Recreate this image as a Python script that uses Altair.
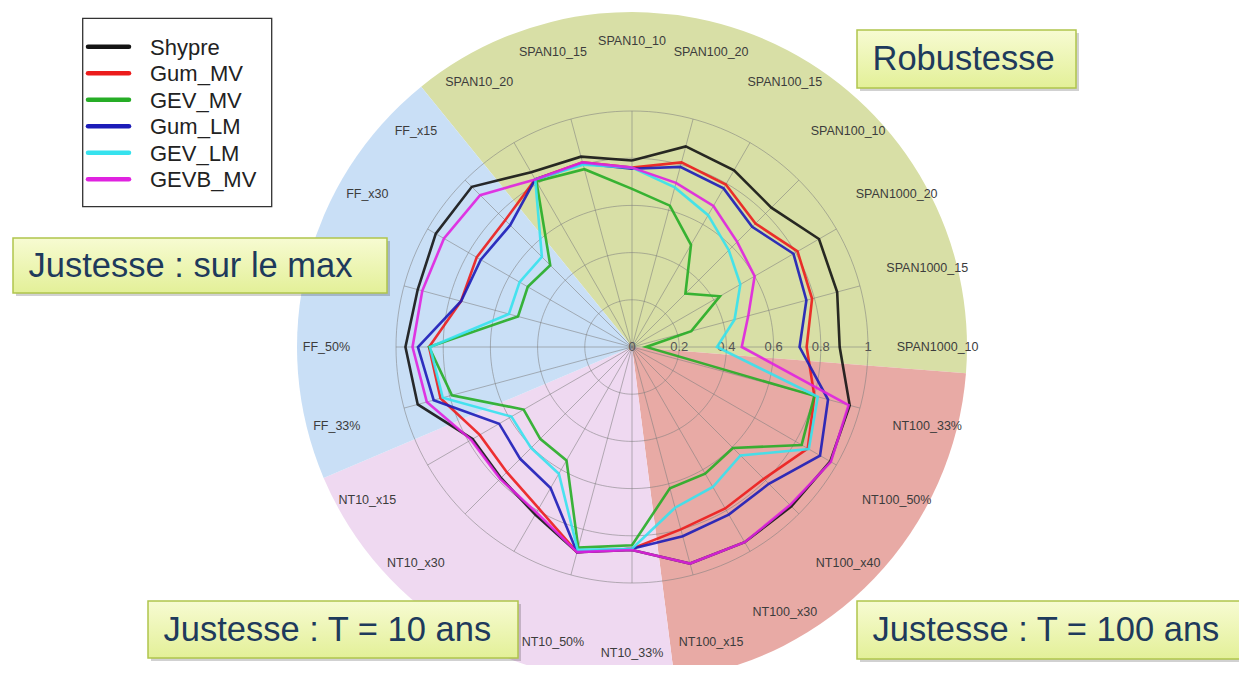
import math
import altair as alt
import pandas as pd

# ---------------- data ----------------
categories = ["SPAN10_10", "SPAN100_20", "SPAN100_15", "SPAN100_10", "SPAN1000_20", "SPAN1000_15",
              "SPAN1000_10", "NT100_33%", "NT100_50%", "NT100_x40", "NT100_x30", "NT100_x15",
              "NT10_33%", "NT10_50%", "NT10_x40", "NT10_x30", "NT10_x15", "FF_33%", "FF_50%",
              "FF_x40", "FF_x30", "FF_x15", "SPAN10_20", "SPAN10_15"]
hidden_labels = ["NT10_x40", "FF_x40"]   # covered by the annotation boxes in the original
series_names = ["Shypre", "Gum_MV", "GEV_MV", "Gum_LM", "GEV_LM", "GEVB_MV"]
series_colors = ["#141414", "#ec1c1c", "#26ad26", "#1c1cb8", "#36e2ee", "#e022e0"]

shypre = [0.79, 0.88, 0.865, 0.835, 0.915, 0.90, 0.88, 0.955, 0.97, 0.955, 0.955, 0.95,
          0.86, 0.90, 0.82, 0.785, 0.78, 0.94, 0.96, 0.94, 0.96, 0.96, 0.855, 0.835]
gum_mv = [0.76, 0.81, 0.795, 0.74, 0.81, 0.79, 0.74, 0.80, 0.86, 0.79, 0.79, 0.80,
          0.855, 0.90, 0.79, 0.75, 0.745, 0.84, 0.86, 0.75, 0.76, 0.76, 0.82, 0.81]
gev_mv = [0.67, 0.62, 0.50, 0.32, 0.43, 0.26, 0.06, 0.80, 0.83, 0.605, 0.62, 0.62,
          0.84, 0.88, 0.555, 0.55, 0.53, 0.79, 0.86, 0.50, 0.51, 0.49, 0.81, 0.78]
gum_lm = [0.755, 0.79, 0.776, 0.72, 0.79, 0.765, 0.71, 0.86, 0.92, 0.82, 0.82, 0.83,
          0.855, 0.90, 0.69, 0.67, 0.65, 0.87, 0.907, 0.75, 0.74, 0.73, 0.82, 0.805]
gev_lm = [0.76, 0.70, 0.645, 0.58, 0.53, 0.45, 0.36, 0.815, 0.865, 0.65, 0.685, 0.705,
          0.855, 0.89, 0.62, 0.605, 0.59, 0.83, 0.856, 0.54, 0.55, 0.54, 0.82, 0.80]
gevb_mv = [0.76, 0.72, 0.69, 0.63, 0.60, 0.51, 0.465, 0.95, 0.973, 0.947, 0.955, 0.95,
           0.86, 0.90, 0.81, 0.79, 0.787, 0.90, 0.93, 0.92, 0.92, 0.91, 0.82, 0.81]
series_values = [shypre, gum_mv, gev_mv, gum_lm, gev_lm, gevb_mv]

tick_values = [0, 0.2, 0.4, 0.6, 0.8, 1]
tick_labels = ["0", "0.2", "0.4", "0.6", "0.8", "1"]

zone_names = ["Robustesse", "NT100", "NT10", "FF"]
zone_start_deg = [321, 94.5, 172.7, 247]
zone_end_deg = [454.5, 172.7, 247, 321]
zone_colors = ["#d8dfa6", "#e8aaa5", "#efd9f1", "#c9dff6"]

box_texts = ["Robustesse", "Justesse : sur le max", "Justesse : T = 10 ans", "Justesse : T = 100 ans"]

# ---------------- layout ----------------
W, H = 1231, 657
CX, CY = 624, 339          # centre of the radar, in chart pixels
PX = 236                   # pixels for value 1
N = len(categories)
FONT = "Liberation Sans"

xs = alt.Scale(domain=[-CX / PX, (W - CX) / PX], nice=False, zero=False)
ys = alt.Scale(domain=[-(H - CY) / PX, CY / PX], nice=False, zero=False)
X = lambda f: alt.X(f, type="quantitative", scale=xs, axis=None)
Y = lambda f: alt.Y(f, type="quantitative", scale=ys, axis=None)

one = pd.DataFrame({"a": [0]})

# background sectors
zones = pd.DataFrame({"zone": zone_names,
                      "t0": [d * math.pi / 180 for d in zone_start_deg],
                      "t1": [d * math.pi / 180 for d in zone_end_deg],
                      "col": zone_colors})
sectors = alt.Chart(zones).mark_arc(stroke=None).encode(
    theta=alt.Theta("t0:Q", scale=None),
    theta2=alt.Theta2("t1:Q"),
    color=alt.Color("col:N", scale=None),
    x=alt.value(CX), y=alt.value(CY), radius=alt.value(335))

# grid rings
ring_rows = [{"ring": r, "t": t} for r in tick_values[1:] for t in range(0, 361, 2)]
rings = alt.Chart(pd.DataFrame(ring_rows)).transform_calculate(
    x="datum.ring*sin(datum.t*PI/180)", y="datum.ring*cos(datum.t*PI/180)"
).mark_line(stroke="#7d7d7d", strokeWidth=1, opacity=0.55).encode(
    x=X("x"), y=Y("y"), detail="ring:N", order="t:Q")

# spokes
spoke_df = pd.DataFrame({"idx": list(range(N))})
spokes = alt.Chart(spoke_df).transform_calculate(
    x0="0", y0="0",
    x1="sin(datum.idx*2*PI/%d)" % N, y1="cos(datum.idx*2*PI/%d)" % N
).mark_rule(stroke="#7d7d7d", strokeWidth=1, opacity=0.55).encode(
    x=X("x0"), y=Y("y0"), x2="x1:Q", y2="y1:Q")

# tick labels along the horizontal axis
ticks = alt.Chart(pd.DataFrame({"v": tick_values, "lab": tick_labels})).transform_calculate(
    y0="0").mark_text(font=FONT, fontSize=13, color="#555555", align="center", baseline="middle").encode(
    x=X("v"), y=Y("y0"), text="lab:N")

# series lines
rows = []
for name, vals in zip(series_names, series_values):
    for i in range(N + 1):
        rows.append({"series": name, "idx": i, "value": vals[i % N]})
lines = alt.Chart(pd.DataFrame(rows)).transform_calculate(
    x="datum.value*sin(datum.idx*2*PI/%d)" % N,
    y="datum.value*cos(datum.idx*2*PI/%d)" % N
).mark_line(strokeWidth=2.6, opacity=0.9, strokeJoin="miter").encode(
    x=X("x"), y=Y("y"), order="idx:Q",
    color=alt.Color("series:N", scale=alt.Scale(domain=series_names, range=series_colors), legend=None))

# category labels (the two covered by boxes are not drawn)
cat_df = pd.DataFrame({"idx": list(range(N)), "cat": categories})
cat_df = cat_df[~cat_df["cat"].isin(hidden_labels)]
cats = alt.Chart(cat_df).transform_calculate(
    x="1.295*sin(datum.idx*2*PI/%d)" % N, y="1.295*cos(datum.idx*2*PI/%d)" % N
).mark_text(font=FONT, fontSize=12.5, color="#3c3c3c", align="center", baseline="middle").encode(
    x=X("x"), y=Y("y"), text="cat:N")

layers = [sectors, rings, spokes, ticks, lines, cats]

# annotation boxes (page coords -> chart coords)
boxes = [(857, 30, 1076, 88), (13, 238, 387, 293), (148, 601, 518, 658), (857, 601, 1245, 659)]
grad = alt.LinearGradient(gradient="linear", x1=0, y1=0, x2=0, y2=1,
                          stops=[alt.GradientStop(color="#f7fbd2", offset=0),
                                 alt.GradientStop(color="#e3f098", offset=1)])
for txt, (x0, y0, x1, y1) in zip(box_texts, boxes):
    x0, y0, x1, y1 = x0 - 8, y0 - 8, x1 - 8, y1 - 8
    layers.append(alt.Chart(one).mark_rect(color="#000000", opacity=0.18).encode(
        x=alt.value(x0 + 3), x2=alt.value(x1 + 3), y=alt.value(y0 + 3), y2=alt.value(y1 + 3)))
    layers.append(alt.Chart(one).mark_rect(color=grad, stroke="#b0c54c", strokeWidth=1.5).encode(
        x=alt.value(x0), x2=alt.value(x1), y=alt.value(y0), y2=alt.value(y1)))
    layers.append(alt.Chart(one).mark_text(text=txt, font=FONT, fontSize=34.5, color="#1e3a5c",
                                           align="left", baseline="middle").encode(
        x=alt.value(x0 + 15.5), y=alt.value((y0 + y1) / 2 + 1)))

# legend
lx0, ly0, lx1, ly1 = 82.7 - 8, 18.3 - 8, 271.7 - 8, 206.7 - 8
layers.append(alt.Chart(one).mark_rect(color="#ffffff", stroke="#333333", strokeWidth=1.3).encode(
    x=alt.value(lx0), x2=alt.value(lx1), y=alt.value(ly0), y2=alt.value(ly1)))
for k, (name, col) in enumerate(zip(series_names, series_colors)):
    yy = 38.7 + 26.5 * k
    layers.append(alt.Chart(one).mark_rule(color=col, strokeWidth=4.5, strokeCap="round").encode(
        x=alt.value(80), x2=alt.value(121), y=alt.value(yy)))
    layers.append(alt.Chart(one).mark_text(text=name, font=FONT, fontSize=22, color="#222222",
                                           align="left", baseline="middle").encode(
        x=alt.value(142), y=alt.value(yy + 1)))

chart = alt.layer(*layers).properties(
    width=W, height=H, padding=0, autosize=alt.AutoSizeParams(type="none")
).configure_view(stroke=None)

chart.save("out.html", embed_options={"renderer": "svg", "actions": False})
